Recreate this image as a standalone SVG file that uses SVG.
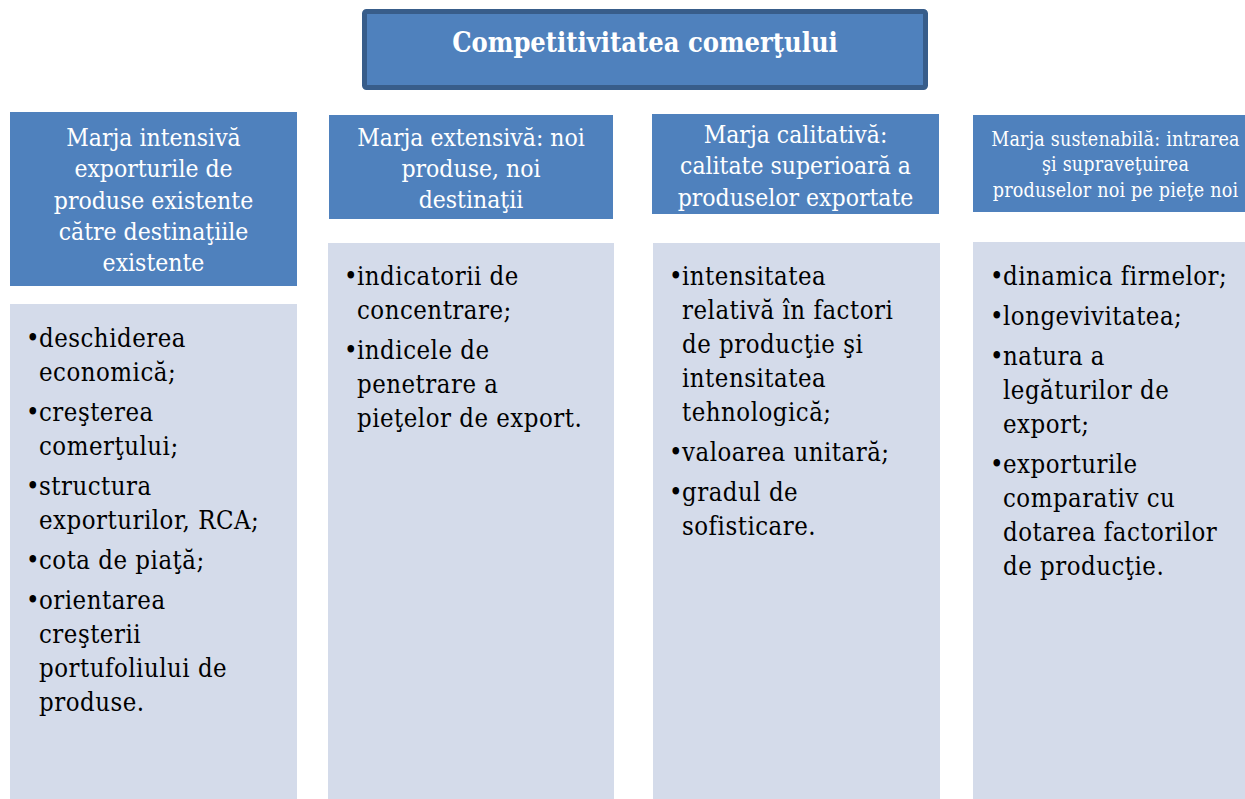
<svg xmlns="http://www.w3.org/2000/svg" width="1245" height="799" viewBox="0 0 1245 799">
<style>
.hdr{fill:#4F81BD}
.body{fill:#D4DBEA}
.ht{font-family:"DejaVu Serif Condensed","DejaVu Serif",serif;fill:#FFFFFF;text-anchor:middle;font-size:24.5px}
.ht4{font-family:"DejaVu Serif Condensed","DejaVu Serif",serif;fill:#FFFFFF;text-anchor:middle;font-size:19.5px;letter-spacing:0.2px}
.bt{font-family:"DejaVu Serif Condensed","DejaVu Serif",serif;fill:#000000;font-size:25.5px;letter-spacing:0.5px}
.title{font-family:"DejaVu Serif Condensed","DejaVu Serif",serif;fill:#FFFFFF;font-weight:bold;font-size:27px;text-anchor:middle}
</style>
<rect width="1245" height="799" fill="#FFFFFF"/>
<g id="title">
<rect x="364.5" y="11.5" width="561" height="76" rx="2" fill="#4F81BD" stroke="#385D8A" stroke-width="5"/>
<text class="title" x="645" y="52">Competitivitatea comerţului</text>
</g>
<g id="h1">
<rect class="hdr" x="10" y="112" width="287" height="174"/>
<text class="ht" x="153.5" y="146">Marja intensivă</text>
<text class="ht" x="153.5" y="177">exporturile de</text>
<text class="ht" x="153.5" y="209">produse existente</text>
<text class="ht" x="153.5" y="240">către destinaţiile</text>
<text class="ht" x="153.5" y="271">existente</text>
</g>
<g id="h2">
<rect class="hdr" x="329" y="115" width="284" height="104"/>
<text class="ht" x="471" y="146">Marja extensivă: noi</text>
<text class="ht" x="471" y="177">produse, noi</text>
<text class="ht" x="471" y="208">destinaţii</text>
</g>
<g id="h3">
<rect class="hdr" x="652" y="114" width="287" height="100"/>
<text class="ht" x="795.5" y="143">Marja calitativă:</text>
<text class="ht" x="795.5" y="174">calitate superioară a</text>
<text class="ht" x="795.5" y="206">produselor exportate</text>
</g>
<g id="h4">
<rect class="hdr" x="973" y="115" width="272" height="97"/>
<text class="ht4" x="1115.5" y="146">Marja sustenabilă: intrarea</text>
<text class="ht4" x="1115.5" y="171">şi supraveţuirea</text>
<text class="ht4" x="1115.5" y="197">produselor noi pe pieţe noi</text>
</g>
<g id="b1">
<rect class="body" x="10" y="304" width="287" height="495"/>
<text class="bt" x="26" y="347">•</text><text class="bt" x="39" y="347">deschiderea</text>
<text class="bt" x="39" y="381">economică;</text>
<text class="bt" x="26" y="421">•</text><text class="bt" x="39" y="421">creşterea</text>
<text class="bt" x="39" y="455">comerţului;</text>
<text class="bt" x="26" y="495">•</text><text class="bt" x="39" y="495">structura</text>
<text class="bt" x="39" y="529">exporturilor, RCA;</text>
<text class="bt" x="26" y="569">•</text><text class="bt" x="39" y="569">cota de piaţă;</text>
<text class="bt" x="26" y="609">•</text><text class="bt" x="39" y="609">orientarea</text>
<text class="bt" x="39" y="643">creşterii</text>
<text class="bt" x="39" y="677">portufoliului de</text>
<text class="bt" x="39" y="711">produse.</text>
</g>
<g id="b2">
<rect class="body" x="328" y="243" width="286" height="556"/>
<text class="bt" x="344" y="285">•</text><text class="bt" x="357" y="285">indicatorii de</text>
<text class="bt" x="357" y="319">concentrare;</text>
<text class="bt" x="344" y="359">•</text><text class="bt" x="357" y="359">indicele de</text>
<text class="bt" x="357" y="393">penetrare a</text>
<text class="bt" x="357" y="427">pieţelor de export.</text>
</g>
<g id="b3">
<rect class="body" x="653" y="243" width="287" height="556"/>
<text class="bt" x="669" y="285">•</text><text class="bt" x="682" y="285">intensitatea</text>
<text class="bt" x="682" y="319">relativă în factori</text>
<text class="bt" x="682" y="353">de producţie şi</text>
<text class="bt" x="682" y="387">intensitatea</text>
<text class="bt" x="682" y="421">tehnologică;</text>
<text class="bt" x="669" y="461">•</text><text class="bt" x="682" y="461">valoarea unitară;</text>
<text class="bt" x="669" y="501">•</text><text class="bt" x="682" y="501">gradul de</text>
<text class="bt" x="682" y="535">sofisticare.</text>
</g>
<g id="b4">
<rect class="body" x="973" y="242" width="272" height="557"/>
<text class="bt" x="990" y="285">•</text><text class="bt" x="1003" y="285">dinamica firmelor;</text>
<text class="bt" x="990" y="325">•</text><text class="bt" x="1003" y="325">longevivitatea;</text>
<text class="bt" x="990" y="365">•</text><text class="bt" x="1003" y="365">natura a</text>
<text class="bt" x="1003" y="399">legăturilor de</text>
<text class="bt" x="1003" y="433">export;</text>
<text class="bt" x="990" y="473">•</text><text class="bt" x="1003" y="473">exporturile</text>
<text class="bt" x="1003" y="507">comparativ cu</text>
<text class="bt" x="1003" y="541">dotarea factorilor</text>
<text class="bt" x="1003" y="575">de producţie.</text>
</g>
<g id="connectors"></g>
</svg>
